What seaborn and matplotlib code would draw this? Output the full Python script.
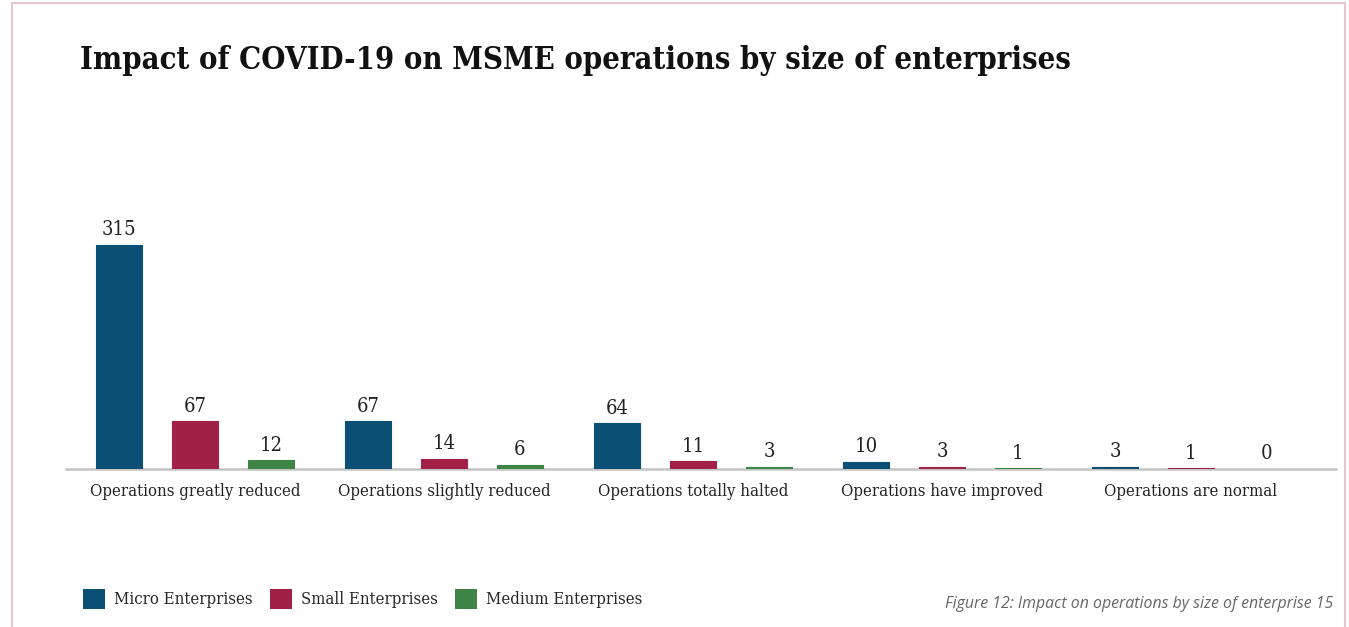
import matplotlib
matplotlib.use("Agg")
import matplotlib.pyplot as plt
from matplotlib.patches import Rectangle
import seaborn as sns
import pandas as pd

categories = ["Operations greatly reduced", "Operations slightly reduced",
              "Operations totally halted", "Operations have improved",
              "Operations are normal"]
sizes = ["Micro Enterprises", "Small Enterprises", "Medium Enterprises"]
micro = [315, 67, 64, 10, 3]
small = [67, 14, 11, 3, 1]
medium = [12, 6, 3, 1, 0]
colors = ["#0B4F75", "#A12045", "#3F8447"]

df = pd.DataFrame({
    "category": categories * 3,
    "size": [s for s in sizes for _ in categories],
    "count": micro + small + medium,
})

sns.set_theme(style="white")
serif = ["DejaVu Serif"]
cond = "condensed"

fig = plt.figure(figsize=(13.49, 6.27), dpi=100)
ax = fig.add_axes([66 / 1349, 158 / 627, 1270 / 1349, 249 / 627])

sns.barplot(data=df, x="category", y="count", hue="size", order=categories,
            hue_order=sizes, palette=colors, saturation=1, width=0.915, gap=0.394,
            linewidth=0, legend=False, ax=ax)

# thin outline in the bar's own colour keeps the tiny bars visible
for bar in ax.patches:
    if bar.get_height() > 0:
        bar.set_edgecolor(bar.get_facecolor())
        bar.set_linewidth(0.8)
        bar.set_zorder(3)

for cont in ax.containers:
    ax.bar_label(cont, padding=4, fontsize=14.5, family=serif, fontstretch=cond,
                 color="#222222")

ax.set_xlim(-129 / 249, 1141 / 249)
ax.set_ylim(0, 350)
ax.set_xlabel("")
ax.set_ylabel("")
ax.set_yticks([])
for side in ["left", "right", "top"]:
    ax.spines[side].set_visible(False)
ax.spines["bottom"].set_color("#c4c4c4")
ax.spines["bottom"].set_linewidth(1.8)
ax.spines["bottom"].set_zorder(1)
ax.tick_params(axis="x", length=0, pad=10)
for lab in ax.get_xticklabels():
    lab.set_fontfamily(serif)
    lab.set_fontstretch(cond)
    lab.set_fontsize(12)
    lab.set_color("#222222")

fig.text(80 / 1349, 1 - 60 / 627, "Impact of COVID-19 on MSME operations by size of enterprises",
         family=serif, fontstretch=cond, fontweight="bold", fontsize=22.2,
         color="#111111", ha="left", va="center")

# legend row
handles = [Rectangle((0, 0), 1, 1, facecolor=c, edgecolor="none") for c in colors]
fig.legend(handles, sizes, loc="center left", bbox_to_anchor=(68 / 1349, 1 - 599 / 627),
           ncol=3, frameon=False, handlelength=1.3, handleheight=1.5,
           handletextpad=0.55, columnspacing=1.05,
           prop={"family": serif, "stretch": cond, "size": 12})

fig.text(1333 / 1349, 1 - 604 / 627, "Figure 12: Impact on operations by size of enterprise 15",
         family="Open Sans", style="italic", fontsize=11.4, color="#666666",
         ha="right", va="center")

# pink page frame
fig.patches.append(Rectangle((12 / 1349, -0.05), 1333 / 1349, 1 - 3 / 627 + 0.05,
                             transform=fig.transFigure, fill=False,
                             edgecolor="#E8C6CF", linewidth=1.5))

fig.savefig("out.png", dpi=100)
